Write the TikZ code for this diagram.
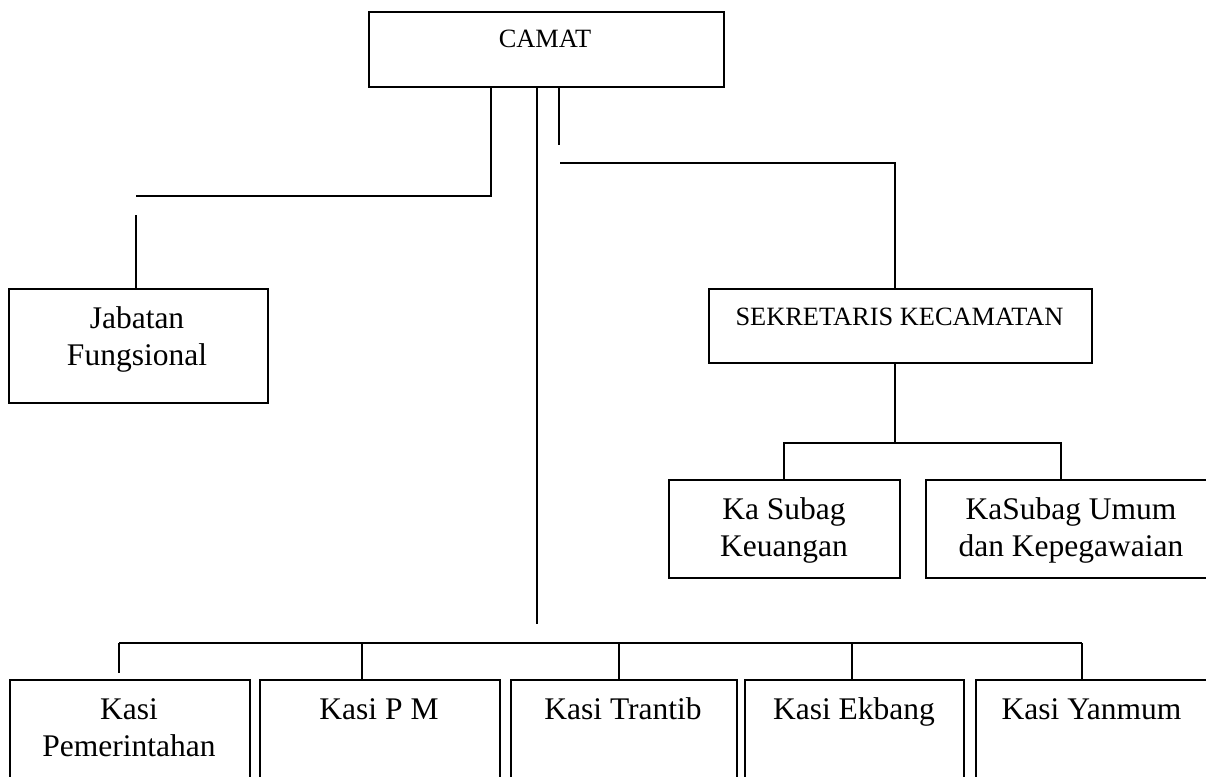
\documentclass[tikz,border=0pt]{standalone}
\usepackage{fontspec}
\setmainfont{Liberation Serif}
\begin{document}
\begin{tikzpicture}[x=1pt,y=-1pt,
  lw/.style={line width=1.8pt},
  box/.style={draw, lw, rectangle, inner sep=0pt, anchor=north west},
  big/.style={font=\fontsize{31.5}{36.5}\selectfont, align=center, anchor=base, inner sep=0pt},
  small/.style={font=\fontsize{26.4}{30}\selectfont, anchor=base, inner sep=0pt},
  conn/.style={draw, lw}]
\useasboundingbox (0,0) rectangle (1206,776);
\clip (0,0) rectangle (1206,776);
% boxes
\node[box, minimum width=355pt, minimum height=75pt] (camat) at (368,11) {};
\node[box, minimum width=259pt, minimum height=114pt] (jab) at (8,288) {};
\node[box, minimum width=383pt, minimum height=74pt] (sek) at (708,288) {};
\node[box, minimum width=231pt, minimum height=98pt] (ksk) at (668,479) {};
\node[box, minimum width=292pt, minimum height=98pt] (ksu) at (925,479) {};
\node[box, minimum width=240pt, minimum height=140pt] (k1) at (9,679) {};
\node[box, minimum width=240pt, minimum height=140pt] (k2) at (259,679) {};
\node[box, minimum width=226pt, minimum height=140pt] (k3) at (510,679) {};
\node[box, minimum width=219pt, minimum height=140pt] (k4) at (744,679) {};
\node[box, minimum width=233pt, minimum height=140pt] (k5) at (975,679) {};
% texts (two-line texts are placed by the baseline of their last line)
\node[small] (tcamat) at (545,48) {CAMAT};
\node[big] (tjab) at (137,365) {Jabatan\\Fungsional};
\node[small] (tsek) at (899.5,325) {SEKRETARIS KECAMATAN};
\node[big] (tksk) at (784,556) {Ka Subag\\Keuangan};
\node[big] (tksu) at (1071,556) {KaSubag Umum\\dan Kepegawaian};
\node[big] (tk1) at (129,756) {Kasi\\Pemerintahan};
\node[big] (tk2) at (379,719) {Kasi P M};
\node[big] (tk3) at (623,719) {Kasi Trantib};
\node[big] (tk4) at (854,719) {Kasi Ekbang};
\node[big] (tk5) at (1091.5,719) {Kasi Yanmum};
% connectors
\coordinate (jbend) at (136,196);
\coordinate (jtop) at (136,215);
\coordinate (mid) at (537,624);
\coordinate (stub) at (559,145);
\coordinate (sstart) at (560,163);
\coordinate (ssplit) at (895,443);
\coordinate (bl) at (119,643);
\coordinate (br) at (1082,643);
\coordinate (b1end) at (119,673);
\path[conn] (camat.south -| 491,0) |- (jbend);
\path[conn] (jtop) -- (jab.north -| jtop);
\path[conn] (camat.south -| mid) -- (mid);
\path[conn] (camat.south -| stub) -- (stub);
\path[conn] (sstart) -| (sek.north -| 895,0);
\path[conn] (sek.south -| ssplit) -- (ssplit);
\path[conn] (ksk.north -| 784,0) |- (ssplit) -| (ksu.north -| 1061,0);
\path[conn] (bl) -- (br);
\path[conn] (bl) -- (b1end);
\path[conn] (bl -| 362,0) -- (k2.north -| 362,0);
\path[conn] (bl -| 619,0) -- (k3.north -| 619,0);
\path[conn] (bl -| 852,0) -- (k4.north -| 852,0);
\path[conn] (br) -- (k5.north -| br);
\end{tikzpicture}
\end{document}
